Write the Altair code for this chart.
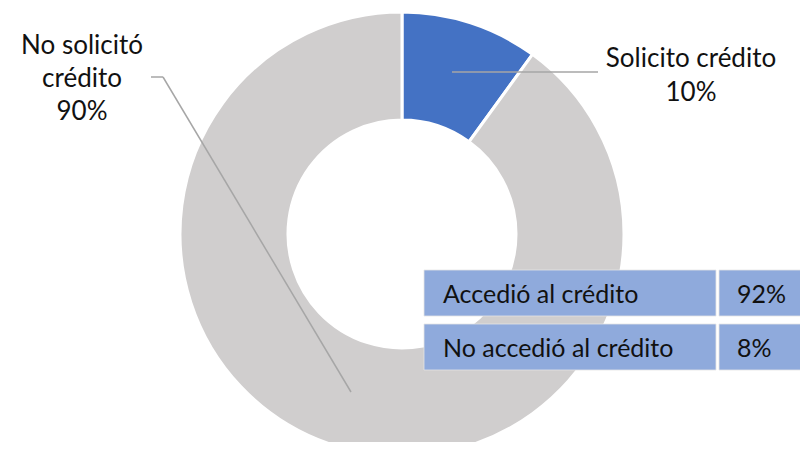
import altair as alt
import pandas as pd

# ---- data ----
categories = ["Solicito crédito", "No solicitó crédito"]
values = [10, 90]
label_text = ["Solicito crédito", "No solicitó\ncrédito"]
slice_colors = ["#4472C4", "#D0CECE"]

table_labels = ["Accedió al crédito", "No accedió al crédito"]
table_values = [92, 8]

pie_df = pd.DataFrame({
    "cat": categories,
    "value": values,
    "label": label_text,
    "idx": list(range(len(categories))),
})
tab_df = pd.DataFrame({
    "label": table_labels,
    "value": table_values,
    "row": list(range(len(table_labels))),
})

FONT = "Lato"
W, H = 792, 434
CX, CY = 394, 226

base = alt.Chart(pie_df)

arc = base.mark_arc(innerRadius=114, outerRadius=222, stroke="white", strokeWidth=3).encode(
    theta=alt.Theta("value:Q", stack=True),
    order=alt.Order("idx:Q"),
    color=alt.Color("cat:N", scale=alt.Scale(domain=categories, range=slice_colors), legend=None),
    x=alt.value(CX),
    y=alt.value(CY),
)

lead_color = "#A6A6A6"
one = pd.DataFrame({"a": [0]})
lead1 = alt.Chart(one).mark_rule(color=lead_color, strokeWidth=1.5).encode(
    x=alt.value(444), x2=alt.value(590), y=alt.value(64), y2=alt.value(64))
lead2a = alt.Chart(one).mark_rule(color=lead_color, strokeWidth=1.5).encode(
    x=alt.value(143), x2=alt.value(155), y=alt.value(69), y2=alt.value(69))
lead2b = alt.Chart(one).mark_rule(color=lead_color, strokeWidth=1.5).encode(
    x=alt.value(155), x2=alt.value(343), y=alt.value(69), y2=alt.value(384))

lab_expr = "split(datum.label + '\\n' + datum.value + '%', '\\n')"
lab1 = base.transform_filter(alt.datum.idx == 0).transform_calculate(
    txt=lab_expr
).mark_text(font=FONT, fontSize=26, color="#111111", align="center", baseline="alphabetic", lineHeight=34).encode(
    text="txt:N", x=alt.value(683), y=alt.value(59))
lab2 = base.transform_filter(alt.datum.idx == 1).transform_calculate(
    txt=lab_expr
).mark_text(font=FONT, fontSize=26, color="#111111", align="center", baseline="alphabetic", lineHeight=33).encode(
    text="txt:N", x=alt.value(74), y=alt.value(46))

ysc = alt.Scale(domain=[0, 2], range=[262, 370])
tbase = alt.Chart(tab_df).transform_calculate(
    bot="datum.row + 0.852", mid="datum.row + 0.61", pct="datum.value + '%'"
)
cell_fill = "#8FAADC"
rect1 = tbase.mark_rect(fill=cell_fill, stroke="#E4E4E4", strokeWidth=0.8).encode(
    y=alt.Y("row:Q", scale=ysc, axis=None), y2="bot:Q",
    x=alt.value(416), x2=alt.value(708))
rect2 = tbase.mark_rect(fill=cell_fill, stroke="#E4E4E4", strokeWidth=0.8).encode(
    y=alt.Y("row:Q", scale=ysc, axis=None), y2="bot:Q",
    x=alt.value(711), x2=alt.value(798))
txt1 = tbase.mark_text(font=FONT, fontSize=25, color="#111111", align="left", baseline="alphabetic").encode(
    y=alt.Y("mid:Q", scale=ysc, axis=None), text="label:N", x=alt.value(435))
txt2 = tbase.mark_text(font=FONT, fontSize=25, color="#111111", align="left", baseline="alphabetic").encode(
    y=alt.Y("mid:Q", scale=ysc, axis=None), text="pct:N", x=alt.value(729))

chart = alt.layer(arc, lead1, lead2a, lead2b, lab1, lab2, rect1, rect2, txt1, txt2).properties(
    width=W, height=H, padding=0, autosize=alt.AutoSizeParams(type="none")
).configure_view(stroke=None)

chart.save("out.html", embed_options={"renderer": "svg", "actions": False})
